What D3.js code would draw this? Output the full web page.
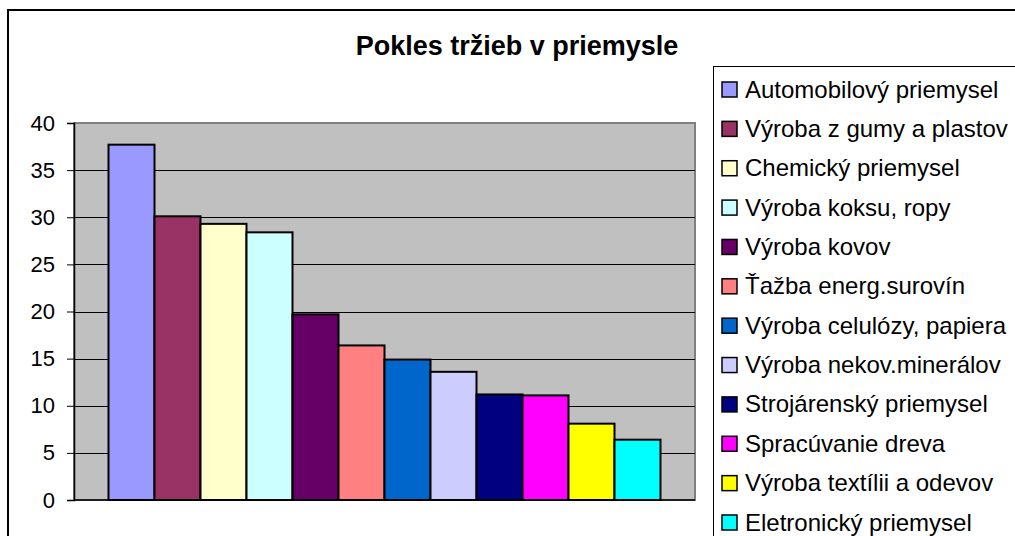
<!DOCTYPE html>
<html>
<head>
<meta charset="utf-8">
<script src="https://cdn.jsdelivr.net/npm/d3@7"></script>
<style>
html,body{margin:0;padding:0;background:#fff;overflow:hidden;}
svg{display:block;font-family:"Liberation Sans",Arial,sans-serif;}
</style>
</head>
<body>
<svg id="chart" width="1015" height="536"></svg>
<script>
const categories = [
  "Automobilový priemysel",
  "Výroba z gumy a plastov",
  "Chemický priemysel",
  "Výroba koksu, ropy",
  "Výroba kovov",
  "Ťažba energ.surovín",
  "Výroba celulózy, papiera",
  "Výroba nekov.minerálov",
  "Strojárenský priemysel",
  "Spracúvanie dreva",
  "Výroba textílii a odevov",
  "Eletronický priemysel"
];
const values = [37.7, 30.1, 29.3, 28.4, 19.7, 16.4, 14.9, 13.6, 11.2, 11.1, 8.1, 6.4];
const colors = ["#9999FF", "#993366", "#FFFFCC", "#CCFFFF", "#660066", "#FF8080",
                "#0066CC", "#CCCCFF", "#000080", "#FF00FF", "#FFFF00", "#00FFFF"];
const yTicks = [0, 5, 10, 15, 20, 25, 30, 35, 40];
const title = "Pokles tržieb v priemysle";

const FONT = "'Liberation Sans', Arial, sans-serif";
const svg = d3.select("#chart");
const plot = {left: 74, right: 695, top: 123, bottom: 500};

// outer chart border
svg.append("rect").attr("x", 8).attr("y", 10).attr("width", 1030).attr("height", 560)
  .attr("fill", "#fff").attr("stroke", "#000").attr("stroke-width", 2);

// title
svg.append("text").attr("x", 517).attr("y", 55).attr("text-anchor", "middle")
  .attr("font-family", FONT)
  .attr("font-size", 27).attr("font-weight", "bold").attr("fill", "#000").text(title);

const x = d3.scaleBand().domain(categories).range([plot.left, plot.right])
  .paddingInner(0).paddingOuter(0.75);
const y = d3.scaleLinear().domain([0, 40]).range([plot.bottom, plot.top]);

// plot area
svg.append("rect").attr("x", plot.left).attr("y", plot.top)
  .attr("width", plot.right - plot.left).attr("height", plot.bottom - plot.top)
  .attr("fill", "#C0C0C0").attr("stroke", "#808080").attr("stroke-width", 2);

// gridlines
svg.append("g").selectAll("line").data(yTicks.filter(d => d > 0 && d < 40)).join("line")
  .attr("x1", plot.left).attr("x2", plot.right)
  .attr("y1", d => Math.round(y(d)) + 0.5).attr("y2", d => Math.round(y(d)) + 0.5)
  .attr("stroke", "#000").attr("stroke-width", 1);

// bars
svg.append("g").selectAll("rect").data(values).join("rect")
  .attr("x", (d, i) => x(categories[i]))
  .attr("y", d => y(d))
  .attr("width", x.bandwidth())
  .attr("height", d => plot.bottom - y(d))
  .attr("fill", (d, i) => colors[i])
  .attr("stroke", "#000").attr("stroke-width", 2);

// y axis
const yAxis = d3.axisLeft(y).tickValues(yTicks).tickSize(7).tickPadding(12);
const ag = svg.append("g").attr("transform", `translate(${plot.left},0)`).call(yAxis);
ag.attr("font-family", FONT).attr("font-size", 22);
ag.select(".domain").attr("stroke", "#000").attr("stroke-width", 1.5);
ag.selectAll(".tick line").attr("stroke", "#000").attr("stroke-width", 1);
ag.selectAll(".tick text").attr("font-size", 22).attr("fill", "#000").attr("font-family", FONT);
// x axis baseline
svg.append("line").attr("x1", plot.left).attr("x2", plot.right)
  .attr("y1", plot.bottom).attr("y2", plot.bottom).attr("stroke", "#000").attr("stroke-width", 1.5);

// legend
const lg = svg.append("g");
lg.append("rect").attr("x", 713.5).attr("y", 66.5).attr("width", 400).attr("height", 500)
  .attr("fill", "#fff").attr("stroke", "#000").attr("stroke-width", 1);
const ly = d3.scalePoint().domain(categories).range([89, 522]);
const items = lg.selectAll("g.item").data(categories).join("g").attr("class", "item")
  .attr("transform", d => `translate(0,${ly(d)})`);
items.append("rect").attr("x", 722).attr("y", -7).attr("width", 15).attr("height", 15)
  .attr("fill", (d, i) => colors[i]).attr("stroke", "#000").attr("stroke-width", 1.5);
items.append("text").attr("x", 745).attr("y", 8.5).attr("font-size", 24).attr("fill", "#000")
  .attr("font-family", FONT).text(d => d);
</script>
</body>
</html>
